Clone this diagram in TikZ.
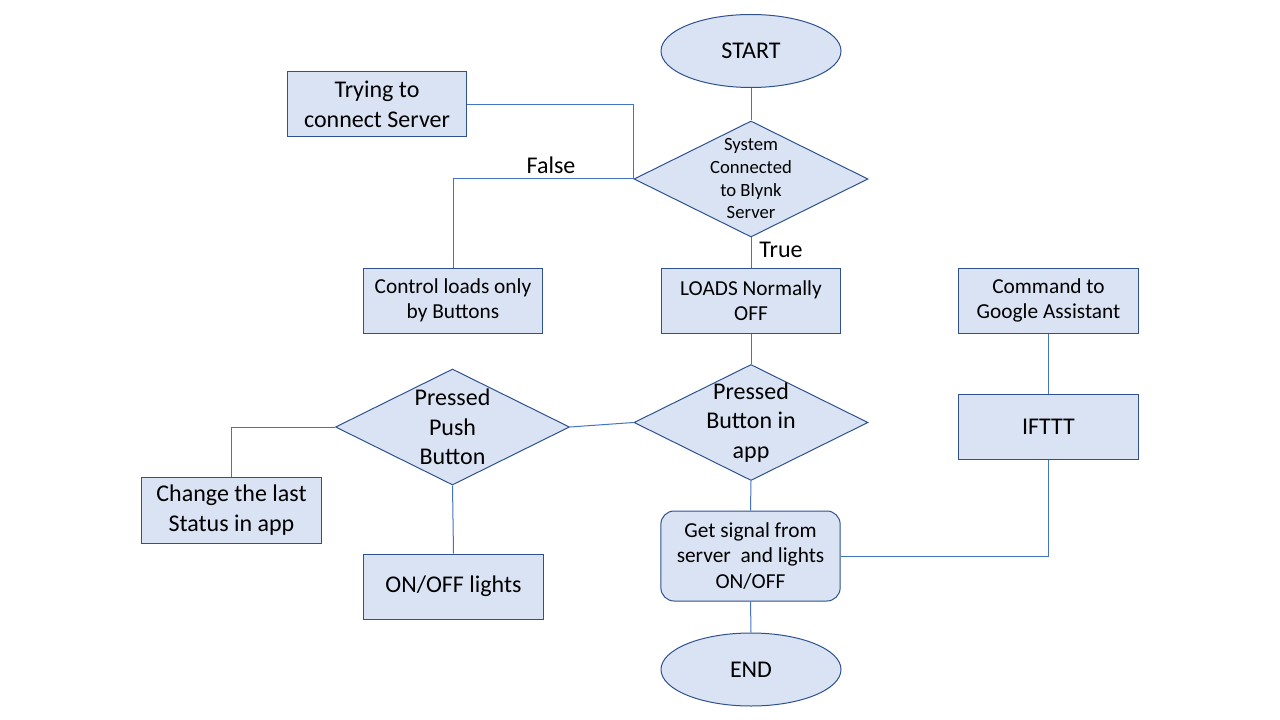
\documentclass[tikz,border=0pt]{standalone}
\usepackage{fontspec}
\setmainfont{Carlito}
\usepackage{tikz}
\usetikzlibrary{shapes.geometric}

\definecolor{boxfill}{HTML}{DAE3F3}
\definecolor{boxline}{HTML}{2F528F}
\definecolor{wire}{HTML}{4472C4}

\begin{document}
\begin{tikzpicture}[x=0.75pt, y=-0.75pt,
    bigtext/.style={font=\fontsize{18}{22}\selectfont},
    midtext/.style={font=\fontsize{16}{19}\selectfont},
    smalltext/.style={font=\fontsize{14}{17}\selectfont},
    shape box/.style={draw=boxline, fill=boxfill, line width=0.75pt, inner sep=0pt, align=center},
    procbox/.style={shape box, rectangle, minimum width=134.5pt, minimum height=48.75pt},
    termbox/.style={shape box, ellipse, minimum width=135pt, minimum height=54.75pt, bigtext},
    decision/.style={shape box, diamond, minimum width=175.5pt, minimum height=87pt},
    wire/.style={draw=wire, line width=0.75pt}]

    \fill[white] (0,0) rectangle (1280,720);

    % top: start and server check
    \node[termbox] (start) at (751,51) {START};
    \node[decision, label={[smalltext, align=center]center:System\\Connected\\to Blynk\\Server}] (conn) at (751,179) {};
    \node[procbox, bigtext] (try) at (377,104.5) {Trying to\\connect Server};
    \node[procbox, midtext] (ctrl) at (453,300.5) {Control loads only\\by Buttons};
    \node[procbox, midtext] (loads) at (751,300.5) {LOADS Normally\\OFF};
    \node[procbox, midtext] (cmd) at (1048.5,300.5) {Command to\\Google Assistant};

    % middle: the two button checks
    \node[procbox, bigtext] (ifttt) at (1048.5,426.5) {IFTTT};
    \node[decision, label={[bigtext, align=center]center:Pressed\\Button in\\app}] (app) at (751,422.5) {};
    \node[decision, label={[bigtext, align=center]center:Pressed\\Push\\Button}] (push) at (452.5,427) {};
    \node[procbox, bigtext, minimum height=49.5pt] (change) at (231.5,510) {Change the last\\Status in app};
    \node[procbox, bigtext] (onoff) at (453.5,586.5) {ON/OFF lights};

    % bottom
    \node[procbox, midtext, minimum height=67.5pt, rounded corners=10pt] (signal) at (750.5,556) {Get signal from\\server\ \ and lights\\ON/OFF};
    \node[termbox] (end) at (751,669.5) {END};

    \node[bigtext] (falselbl) at (551,165) {False};
    \node[bigtext] (truelbl) at (781,250) {True};

    \draw[wire] (start.south) -- (conn.north);
    \draw[wire] (try.east) -| (conn.west);
    \draw[wire] (conn.west) -| (ctrl.north); % false
    \draw[wire] (conn.south) -- (loads.north); % true
    \draw[wire] (loads.south) -- (app.north);
    \draw[wire] (app.west) -- (push.east);
    \draw[wire] (push.west) -| (change.north);
    \draw[wire] (push.south) -- (onoff.north);
    \draw[wire] (app.south) -- (signal.north);
    \draw[wire] (signal.south) -- (end.north);
    \draw[wire] (cmd.south) -- (ifttt.north);
    \draw[wire] (ifttt.south) |- (signal.east);

\end{tikzpicture}
\end{document}
